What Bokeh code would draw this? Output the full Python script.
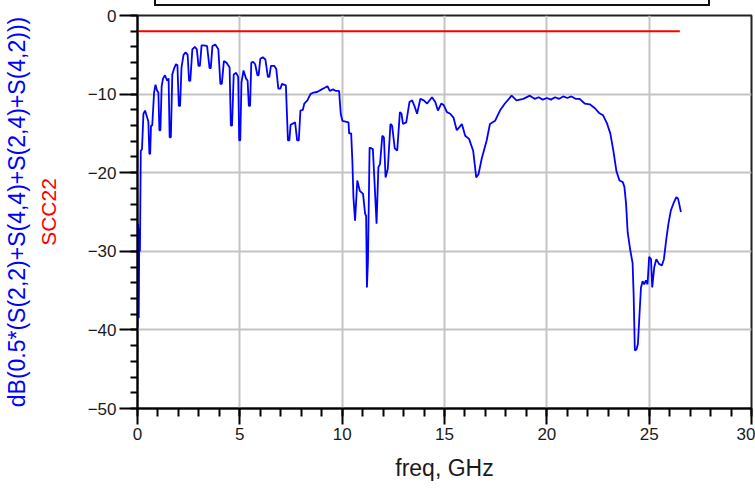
from bokeh.plotting import figure
from bokeh.models import LinearAxis, Range1d, SingleIntervalTicker, FixedTicker, Div
from bokeh.layouts import column
from bokeh.embed import file_html
from bokeh.resources import INLINE

# ---- data ----
freq = [
    0.00, 0.03, 0.06, 0.09, 0.12, 0.16, 0.22, 0.29, 0.37, 0.45, 0.53, 0.58, 0.62, 0.66, 0.72,
    0.81, 0.88, 0.95, 1.02, 1.07, 1.12, 1.18, 1.25, 1.34, 1.45, 1.52, 1.57, 1.63, 1.70, 1.78,
    1.88, 1.95, 2.02, 2.08, 2.15, 2.25, 2.35, 2.45, 2.52, 2.58, 2.68, 2.80, 2.90, 2.98, 3.05,
    3.13, 3.25, 3.40, 3.52, 3.58, 3.66, 3.80, 3.95, 4.05, 4.12, 4.22, 4.35, 4.50, 4.56, 4.62,
    4.70, 4.82, 4.92, 4.97, 5.02, 5.08, 5.18, 5.30, 5.38, 5.44, 5.50, 5.56, 5.65, 5.75, 5.86,
    5.92, 6.00, 6.12, 6.25, 6.37, 6.44, 6.52, 6.68, 6.78, 6.88, 6.98, 7.06, 7.25, 7.35, 7.42,
    7.48, 7.70, 7.80, 7.88, 7.96, 8.08, 8.15, 8.30, 8.45, 8.60, 8.80, 9.00, 9.15, 9.28, 9.40,
    9.55, 9.70, 9.85,
    9.93, 10.01, 10.31, 10.34, 10.44, 10.50, 10.55, 10.63, 10.74, 10.86, 11.02, 11.12, 11.17,
    11.21, 11.26, 11.34, 11.50, 11.57, 11.68, 11.77, 11.85, 11.96, 12.04, 12.12, 12.23, 12.36,
    12.44, 12.57, 12.69, 12.82, 12.90, 12.97, 13.13, 13.29, 13.42, 13.53, 13.66, 13.82, 13.99,
    14.15, 14.39, 14.55, 14.68, 14.84, 14.96, 15.12, 15.28, 15.44, 15.60, 15.73, 15.85, 16.01,
    16.20, 16.40, 16.55, 16.66, 16.82, 17.06, 17.22, 17.47, 17.71, 17.95, 18.28, 18.52, 18.85,
    19.17, 19.40, 19.60, 19.80, 20.00, 20.20, 20.40, 20.60, 20.80, 21.00, 21.20, 21.40, 21.60,
    21.85, 22.10, 22.35, 22.55, 22.75, 22.95, 23.10, 23.25, 23.40, 23.55, 23.71, 23.79, 23.87,
    23.95, 24.08, 24.19, 24.24, 24.30, 24.38, 24.45, 24.52, 24.60, 24.68, 24.76, 24.84, 24.92,
    25.00, 25.09, 25.15, 25.25, 25.35, 25.48, 25.62, 25.72, 25.84, 25.94, 26.06, 26.22, 26.33,
    26.41, 26.47, 26.55,
]
db_blue = [
    -39.5, -26.5, -38.5, -27.0, -30.0, -17.2, -17.0, -12.5, -12.1, -12.8, -13.5, -17.6, -17.6, -14.0, -14.0,
    -9.8, -8.8, -9.5, -9.8, -14.6, -14.6, -9.0, -8.0, -7.6, -8.3, -8.0, -15.5, -15.5, -7.5, -6.8,
    -6.2, -6.3, -11.5, -11.5, -6.6, -5.0, -4.7, -5.0, -8.3, -8.3, -4.3, -4.0, -4.3, -6.4, -6.4,
    -3.8, -3.8, -3.9, -6.7, -6.7, -3.9, -3.7, -4.3, -8.7, -8.7, -5.8, -6.0, -6.6, -14.0, -14.0,
    -7.5, -7.3, -7.8, -15.9, -15.9, -8.5, -7.0, -8.0, -8.3, -11.5, -11.5, -6.0, -5.9, -6.2, -7.6,
    -7.6, -5.5, -5.3, -5.6, -7.8, -7.8, -6.4, -6.4, -6.8, -9.3, -9.3, -8.7, -8.9, -15.9, -15.9,
    -13.9, -13.6, -15.9, -15.9, -12.1, -12.0, -11.2, -10.8, -10.0, -9.8, -9.7, -9.4, -9.2, -9.0, -9.6,
    -9.4, -9.6, -9.6,
    -12.5, -13.4, -13.6, -15.0, -15.0, -18.6, -23.1, -26.1, -21.0, -22.3, -22.7, -25.2, -25.5,
    -34.6, -31.2, -16.8, -17.0, -20.6, -26.5, -19.3, -18.9, -15.3, -15.5, -20.6, -19.5, -13.8,
    -14.0, -16.9, -17.2, -12.3, -12.5, -13.8, -13.6, -11.0, -10.8, -11.5, -12.5, -10.6, -10.8,
    -11.2, -10.4, -11.0, -12.1, -11.2, -11.4, -12.3, -12.5, -13.0, -14.6, -14.2, -13.8, -15.3,
    -15.7, -17.2, -20.6, -20.2, -18.2, -15.9, -13.8, -13.4, -12.1, -11.2, -10.2, -10.8, -10.6,
    -10.2, -10.6, -10.4, -10.7, -10.5, -10.7, -10.4, -10.6, -10.3, -10.5, -10.3, -10.6, -10.6,
    -11.2, -11.3, -11.8, -12.4, -12.7, -13.8, -15.0, -17.2, -19.8, -21.0, -21.2, -21.8, -23.9,
    -27.6, -29.9, -31.5, -35.4, -42.6, -42.5, -41.8, -38.4, -34.6, -33.8, -34.2, -33.7, -34.2,
    -30.7, -31.0, -34.6, -32.0, -31.0, -31.6, -31.8, -31.0, -28.4, -26.5, -24.8, -23.7, -23.1,
    -23.3, -24.0, -25.0,
]
ref_freq = [0.0, 26.5]
ref_db = [-2.0, -2.0]

x_label = "freq, GHz"
y_label_blue = "dB(0.5*(S(2,2)+S(4,4)+S(2,4)+S(4,2)))"
y_label_red = "SCC22"

FONT = "Liberation Sans"

p = figure(width=755, height=487, x_range=Range1d(0, 30), y_range=Range1d(-50, 0),
           output_backend="svg", toolbar_location=None, margin=0,
           min_border_left=134, min_border_right=4, min_border_top=9, min_border_bottom=85)
p.background_fill_color = "white"
p.border_fill_color = "white"
p.outline_line_color = "#222222"
p.outline_line_width = 2

p.line(freq, db_blue, color="#0000ff", line_width=1.8)
p.line(ref_freq, ref_db, color="#ff0000", line_width=2)

p.xaxis.ticker = SingleIntervalTicker(interval=5, num_minor_ticks=5)
p.yaxis.ticker = SingleIntervalTicker(interval=10, num_minor_ticks=5)
p.xgrid.ticker = SingleIntervalTicker(interval=5, num_minor_ticks=0)
p.ygrid.ticker = SingleIntervalTicker(interval=10, num_minor_ticks=0)
for g in (p.xgrid, p.ygrid):
    g.grid_line_color = "#c4c4c4"
    g.grid_line_width = 2

for ax in (p.xaxis, p.yaxis):
    ax.axis_line_color = "black"
    ax.axis_line_width = 2
    ax.major_tick_line_color = "black"
    ax.major_tick_line_width = 2
    ax.minor_tick_line_color = "black"
    ax.minor_tick_line_width = 2
    ax.major_tick_in = 0
    ax.minor_tick_in = 0
    ax.major_label_text_font = FONT
    ax.major_label_text_font_size = "17px"
    ax.major_label_text_color = "#1a1a1a"
    ax.axis_label_text_font = FONT
    ax.axis_label_text_font_style = "normal"

p.xaxis.major_tick_out = 16
p.xaxis.minor_tick_out = 8
p.xaxis.major_label_standoff = 3
p.xaxis.axis_label = x_label
p.xaxis.axis_label_text_font_size = "23px"
p.xaxis.axis_label_text_color = "#1a1a1a"
p.xaxis.axis_label_standoff = 12

p.yaxis.major_tick_out = 18
p.yaxis.minor_tick_out = 7
p.yaxis.major_label_standoff = 3
p.yaxis.axis_label = y_label_red
p.yaxis.axis_label_text_font_size = "21px"
p.yaxis.axis_label_text_color = "#ff0000"
p.yaxis.axis_label_standoff = 25

outer = LinearAxis(ticker=FixedTicker(ticks=[]), axis_label=y_label_blue,
                   axis_line_color=None, major_tick_line_color=None, minor_tick_line_color=None,
                   major_label_text_font_size="0px", major_tick_out=0, minor_tick_out=0,
                   major_label_standoff=0, axis_label_standoff=4,
                   axis_label_text_font=FONT, axis_label_text_font_style="normal",
                   axis_label_text_font_size="23px", axis_label_text_color="#0000ff")
p.add_layout(outer, "left")

# cut-off legend frame above the plot
legend_box = Div(text="", width=556, height=6, margin=(0, 0, 0, 154),
                 styles={"border-left": "2px solid #111", "border-right": "2px solid #111",
                         "border-bottom": "2px solid #111", "box-sizing": "border-box"})

layout = column(legend_box, p, spacing=0, margin=0)
open("out.html", "w").write(file_html(layout, INLINE))
